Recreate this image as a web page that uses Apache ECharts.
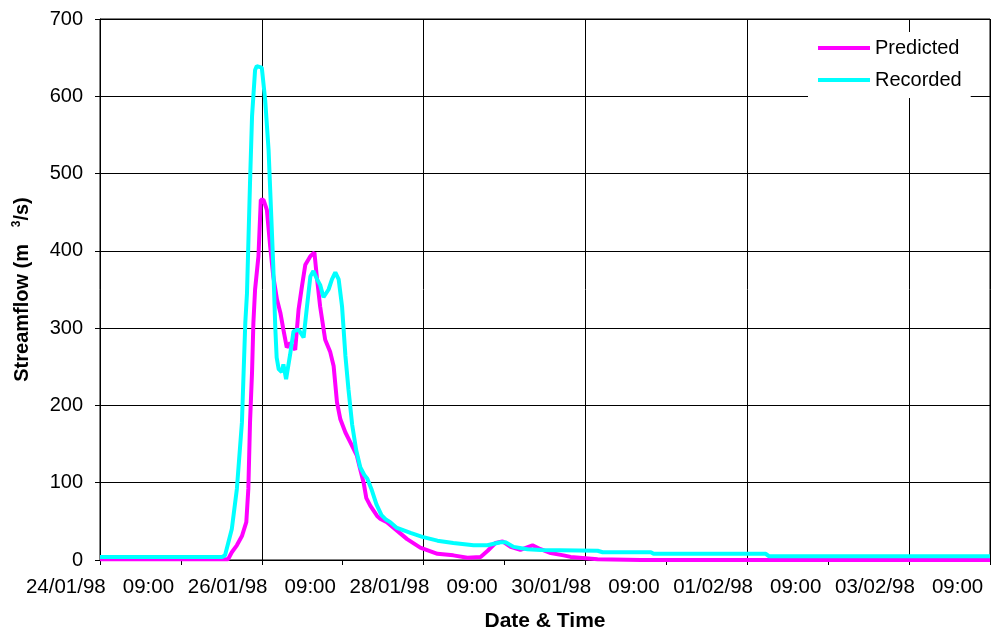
<!DOCTYPE html>
<html>
<head>
<meta charset="utf-8">
<title>Streamflow</title>
<script src="https://cdn.jsdelivr.net/npm/echarts@6/dist/echarts.min.js"></script>
<style>
    html, body { margin: 0; padding: 0; background: #fff; }
    #chart { width: 993px; height: 637px; }
</style>
</head>
<body>
<div id="chart"></div>
<script>
// hours after 24/01/98 09:00
const tickLabels = ['24/01/98   09:00', '26/01/98   09:00', '28/01/98   09:00',
    '30/01/98   09:00', '01/02/98   09:00', '03/02/98   09:00']

const predictedHours = [0, 38.0, 39.1, 40.6, 42.1, 43.4, 44.0, 44.5, 45.1, 45.5, 46.0, 47.0, 47.7,
    48.5, 49.5, 50.5, 51.4, 52.5, 53.5, 54.4, 55.4, 56.4, 57.9, 58.9, 59.9, 60.9, 62.4, 63.6,
    64.3, 65.3, 66.8, 68.3, 69.3, 70.3, 71.3, 72.8, 74.3, 76.2, 77.2, 78.2, 79.0, 80.2, 82.2,
    83.2, 85.1, 88.1, 91.1, 95.0, 100.1, 104.8, 109.0, 112.9, 115.0, 117.3, 119.4, 121.8,
    124.7, 128.3, 130.7, 133.7, 137.5, 139.6, 147.6, 160.4, 264]
const predictedFlow = [1, 1, 10, 19, 31, 49, 92, 178, 243, 307, 350, 393, 466,
    466, 453, 405, 367, 337, 320, 298, 275, 281, 272, 324, 354, 382, 393, 398,
    367, 328, 285, 269, 251, 204, 182, 165, 152, 135, 117, 100, 80, 70, 57,
    53, 49, 38, 27, 16, 8, 6, 3, 4, 12, 22, 24, 17,
    13, 19, 14, 9, 6, 4, 1, 0, 0]

const recordedHours = [0, 36.2, 37.1, 39.1, 40.6, 42.1, 42.6, 43.1, 43.6, 44.5, 45.1, 46.0, 46.5,
    48.0, 49.0, 50.0, 50.8, 51.4, 52.0, 52.4, 53.0, 53.9, 54.4, 55.2, 56.4, 57.4, 58.9, 60.4,
    61.4, 62.4, 63.3, 64.4, 65.3, 66.3, 67.8, 68.8, 69.8, 70.8, 71.8, 72.8, 73.7, 74.8, 76.0,
    77.2, 78.4, 79.3, 80.5, 82.0, 83.5, 84.9, 86.1, 87.9, 89.1, 92.1, 95.6, 100.1, 104.8,
    110.8, 114.9, 118.8, 120.3, 122.7, 126.8, 130.7, 147.6, 149.1, 163.4, 164.2, 197.5, 198.4, 264]
const recordedFlow = [4, 4, 6, 40, 92, 178, 243, 307, 345, 488, 574, 634, 639,
    637, 595, 531, 445, 380, 300, 262, 247, 243, 253, 234, 266, 296, 298, 288,
    328, 367, 374, 363, 356, 340, 350, 363, 372, 363, 328, 264, 221, 175, 142,
    120, 110, 105, 92, 72, 58, 52, 49, 42, 40, 35, 30, 25, 22,
    19, 19, 23, 23, 17, 14, 13, 12, 10, 10, 8, 8, 5, 5]

const FONT = 'Liberation Sans, Arial, sans-serif'

function pairs(xs, ys) {
    return xs.map((x, i) => [x, ys[i]])
}

const chart = echarts.init(document.getElementById('chart'))
chart.setOption({
    animation: false,
    grid: {
        left: 100,
        top: 19,
        width: 890,
        height: 542,
        show: true,
        borderColor: '#000',
        borderWidth: 1,
    },
    legend: {
        orient: 'vertical',
        left: 808,
        top: 32,
        backgroundColor: '#fff',
        padding: [6, 9, 8, 10],
        itemGap: 12,
        itemWidth: 52,
        itemHeight: 4,
        icon: 'rect',
        textStyle: { fontFamily: FONT, fontSize: 20, color: '#000' },
        data: ['Predicted', 'Recorded'],
    },
    xAxis: [
        {
            type: 'value',
            min: 0,
            max: 264,
            interval: 48,
            position: 'bottom',
            name: 'Date & Time',
            nameLocation: 'middle',
            nameGap: 51,
            nameTextStyle: { fontFamily: FONT, fontSize: 21, fontWeight: 'bold', color: '#000' },
            axisLine: { show: true, lineStyle: { color: '#000', width: 1 } },
            axisTick: { show: false },
            axisLabel: {
                fontFamily: FONT,
                fontSize: 20.5,
                color: '#000',
                margin: 17,
                showMaxLabel: false,
                formatter: (v) => tickLabels[v / 48] || '',
            },
            splitLine: { show: true, lineStyle: { color: '#000', width: 1 } },
        },
        {
            type: 'value',
            min: 0,
            max: 264,
            interval: 24,
            position: 'bottom',
            axisLine: { show: false },
            axisTick: { show: true, length: 5, lineStyle: { color: '#000' } },
            axisLabel: { show: false },
            splitLine: { show: false },
        },
    ],
    yAxis: {
        type: 'value',
        min: 0,
        max: 700,
        interval: 100,
        name: 'Streamflow (m   {sup|3}/s)',
        nameLocation: 'middle',
        nameGap: 67,
        nameTextStyle: {
            fontFamily: FONT,
            fontSize: 20,
            fontWeight: 'bold',
            color: '#000',
            rich: {
                sup: { fontFamily: FONT, fontSize: 12, fontWeight: 'bold', color: '#000', padding: [0, 0, 10, 0] },
            },
        },
        axisLine: { show: true, lineStyle: { color: '#000', width: 1 } },
        axisTick: { show: true, length: 5, lineStyle: { color: '#000' } },
        axisLabel: { fontFamily: FONT, fontSize: 20, color: '#000', margin: 17 },
        splitLine: { show: true, lineStyle: { color: '#000', width: 1 } },
    },
    series: [
        {
            name: 'Predicted',
            type: 'line',
            xAxisIndex: 0,
            symbol: 'none',
            color: '#ff00ff',
            lineStyle: { width: 4, color: '#ff00ff' },
            data: pairs(predictedHours, predictedFlow),
        },
        {
            name: 'Recorded',
            type: 'line',
            xAxisIndex: 0,
            symbol: 'none',
            color: '#00ffff',
            lineStyle: { width: 4, color: '#00ffff' },
            data: pairs(recordedHours, recordedFlow),
        },
    ],
})
</script>
</body>
</html>
